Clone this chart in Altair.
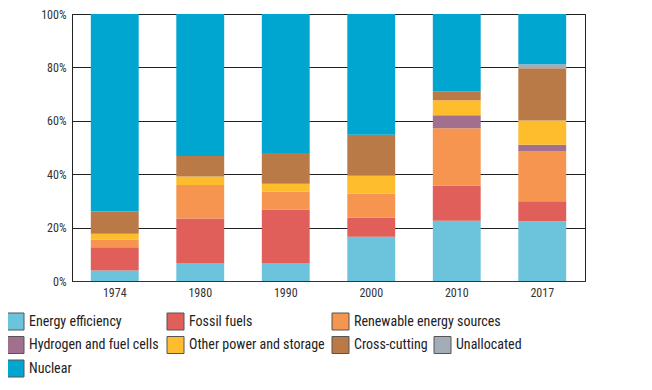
import altair as alt
import pandas as pd

# ---------------- data ----------------
years = ["1974", "1980", "1990", "2000", "2010", "2017"]
categories = [
    "Energy efficiency",
    "Fossil fuels",
    "Renewable energy sources",
    "Hydrogen and fuel cells",
    "Other power and storage",
    "Cross-cutting",
    "Unallocated",
    "Nuclear",
]
colors = ["#6BC4DC", "#E15F5A", "#F5954F", "#A0708E", "#FDBD2C", "#B97A48", "#A3ADB8", "#00A6CF"]

energy_efficiency = [3.9, 6.7, 6.7, 16.6, 22.6, 22.4]
fossil_fuels = [8.7, 16.7, 20.0, 7.1, 13.2, 7.5]
renewable = [2.9, 12.6, 6.7, 9.0, 21.4, 18.6]
hydrogen = [0.0, 0.0, 0.0, 0.0, 4.9, 2.5]
other_power = [2.2, 3.1, 3.0, 6.7, 5.6, 9.1]
cross_cutting = [8.3, 7.7, 11.5, 15.4, 3.4, 19.6]
unallocated = [0.0, 0.0, 0.0, 0.0, 0.0, 1.5]
nuclear = [74.0, 53.2, 52.1, 45.2, 28.9, 18.8]

series = [energy_efficiency, fossil_fuels, renewable, hydrogen,
          other_power, cross_cutting, unallocated, nuclear]

rows = []
for ci, (cat, vals) in enumerate(zip(categories, series)):
    for y, v in zip(years, vals):
        rows.append({"year": y, "category": cat, "order": ci, "value": v})
df = pd.DataFrame(rows)

# ---------------- legend layout (manual flow layout) ----------------
legend_rows = [[0, 1, 2], [3, 4, 5, 6], [7]]
col_left = [-65, 95, 260, 362]      # symbol left edges relative to plot origin
row_center = [307.5, 331, 354.5]    # row centre y relative to plot origin
sym = 17
leg = []
for r, items in enumerate(legend_rows):
    for c, ci in enumerate(items):
        leg.append({
            "category": categories[ci],
            "sx": col_left[c] + sym / 2,
            "tx": col_left[c] + sym + 5,
            "y": row_center[r],
        })
leg_df = pd.DataFrame(leg)

FONT = "Liberation Sans Narrow, Arial Narrow, Roboto Condensed, sans-serif"

color = alt.Color("category:N", scale=alt.Scale(domain=categories, range=colors), legend=None)

bars = alt.Chart(df).mark_bar().encode(
    x=alt.X("year:N", sort=years,
            scale=alt.Scale(paddingInner=0.44, paddingOuter=0.22),
            axis=alt.Axis(title=None, labelAngle=0, ticks=False, labelPadding=6,
                          domainColor="#333", labelColor="#333", labelFontSize=12,
                          labelFont=FONT)),
    y=alt.Y("value:Q", stack="zero",
            scale=alt.Scale(domain=[0, 100], nice=False),
            axis=alt.Axis(title=None, values=[0, 20, 40, 60, 80, 100],
                          labelExpr="datum.value + '%'", ticks=False, labelPadding=6,
                          grid=True, gridColor="#222", gridWidth=1,
                          domainColor="#222", labelColor="#333", labelFontSize=12,
                          labelFont=FONT)),
    color=color,
    order=alt.Order("order:Q", sort="ascending"),
)

leg_sym = alt.Chart(leg_df).mark_square(size=sym * sym, opacity=1, stroke="#555",
                                        strokeWidth=1).encode(
    x=alt.X("sx:Q", scale=None, axis=None),
    y=alt.Y("y:Q", scale=None, axis=None),
    color=color,
)

leg_txt = alt.Chart(leg_df).mark_text(align="left", baseline="middle", fontSize=14,
                                      font=FONT, color="#222").encode(
    x=alt.X("tx:Q", scale=None, axis=None),
    y=alt.Y("y:Q", scale=None, axis=None),
    text="category:N",
)

chart = alt.layer(bars, leg_sym, leg_txt).properties(
    width=513, height=267,
    autosize=alt.AutoSizeParams(type="none"),
    padding={"left": 64, "top": 6, "right": 59, "bottom": 101},
    background="white",
).configure_view(stroke="#222", strokeWidth=1)

chart.save("out.html", embed_options={"renderer": "svg", "actions": False})
